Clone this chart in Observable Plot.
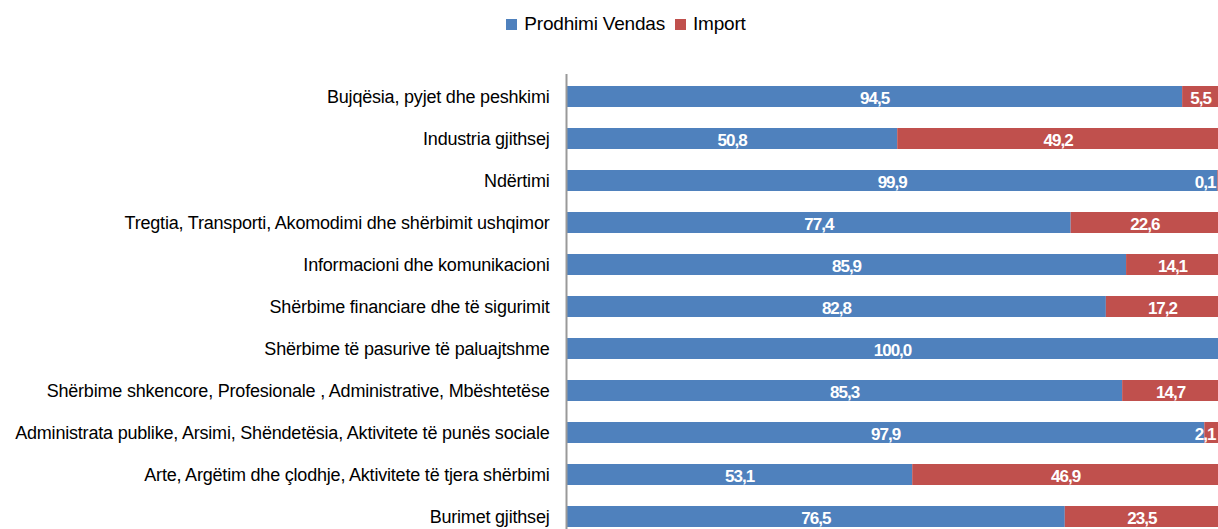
<!DOCTYPE html>
<html>
<head>
<meta charset="utf-8">
<script src="https://cdn.jsdelivr.net/npm/d3@7"></script>
<script src="https://cdn.jsdelivr.net/npm/@observablehq/plot@0.6"></script>
<style>
  html, body { margin: 0; padding: 0; background: #fff; overflow: hidden; }
  body { width: 1218px; height: 529px; font-family: "Liberation Sans", Arial, sans-serif; }
  #legend { height: 50px; display: flex; justify-content: center; align-items: flex-start; padding-left: 34px; box-sizing: border-box; }
  #legend .item { display: flex; align-items: center; margin: 0 5px; margin-top: 13px; font-size: 19px; letter-spacing: -0.2px; color: #000; }
  #legend .sw { width: 11px; height: 11px; margin-right: 7px; }
</style>
</head>
<body>
<div id="legend"></div>
<div id="chart"></div>
<script>
const categories = [
  "Bujqësia, pyjet dhe peshkimi",
  "Industria gjithsej",
  "Ndërtimi",
  "Tregtia, Transporti, Akomodimi dhe shërbimit ushqimor",
  "Informacioni dhe komunikacioni",
  "Shërbime financiare dhe të sigurimit",
  "Shërbime të pasurive të paluajtshme",
  "Shërbime shkencore, Profesionale , Administrative, Mbështetëse",
  "Administrata publike, Arsimi, Shëndetësia, Aktivitete të punës sociale",
  "Arte, Argëtim dhe çlodhje, Aktivitete të tjera shërbimi",
  "Burimet gjithsej"
];
const vendas = [94.5, 50.8, 99.9, 77.4, 85.9, 82.8, 100.0, 85.3, 97.9, 53.1, 76.5];
const importVals = [5.5, 49.2, 0.1, 22.6, 14.1, 17.2, 0.0, 14.7, 2.1, 46.9, 23.5];
const seriesNames = ["Prodhimi Vendas", "Import"];
const seriesColors = ["#4F81BD", "#C0504D"];

const rows = [];
categories.forEach((c, i) => {
  rows.push({cat: c, series: seriesNames[0], x1: 0, x2: vendas[i], v: vendas[i]});
  rows.push({cat: c, series: seriesNames[1], x1: vendas[i], x2: vendas[i] + importVals[i], v: importVals[i]});
});
const fmt = v => v.toFixed(1).replace(".", ",");
const labels = rows.filter(r => r.v > 0);
const wideLabels = labels.filter(r => r.v >= 4);
const narrowLabels = labels.filter(r => r.v < 4);

// legend
const leg = document.getElementById("legend");
seriesNames.forEach((s, i) => {
  const it = document.createElement("div");
  it.className = "item";
  it.innerHTML = `<span class="sw" style="background:${seriesColors[i]}"></span><span>${s}</span>`;
  leg.appendChild(it);
});

const labelFont = "Liberation Sans, Arial, sans-serif";
const chart = Plot.plot({
  width: 1218,
  height: 489,
  marginLeft: 566,
  marginRight: 0,
  marginTop: 24,
  marginBottom: 0,
  style: {fontFamily: "Liberation Sans, Arial, sans-serif", fontSize: "18px", color: "#000", background: "#fff"},
  x: {domain: [0, 100], axis: null},
  y: {domain: categories, paddingInner: 0.5, paddingOuter: 0.25, label: null, tickSize: 0, tickPadding: 17},
  color: {domain: seriesNames, range: seriesColors},
  marks: [
    Plot.barX(rows, {y: "cat", x1: "x1", x2: "x2", fill: "series"}),
    Plot.ruleX([0], {stroke: "#999", strokeWidth: 2}),
    Plot.text(wideLabels, {
      y: "cat", x: d => (d.x1 + d.x2) / 2, text: d => fmt(d.v),
      fill: "white", fontWeight: "bold", fontSize: 17, fontFamily: labelFont, dy: 2
    }),
    Plot.text(narrowLabels, {
      y: "cat", x: d => d.x2, text: d => fmt(d.v),
      fill: "white", fontWeight: "bold", fontSize: 17, fontFamily: labelFont, textAnchor: "end", dx: -3, dy: 2
    })
  ]
});
document.getElementById("chart").appendChild(chart);
chart.querySelectorAll("[aria-label='y-axis tick label'] text").forEach(t => t.setAttribute("letter-spacing", "-0.2"));
chart.querySelectorAll("[aria-label='text'] text").forEach(t => t.setAttribute("letter-spacing", "-1"));
</script>
</body>
</html>
